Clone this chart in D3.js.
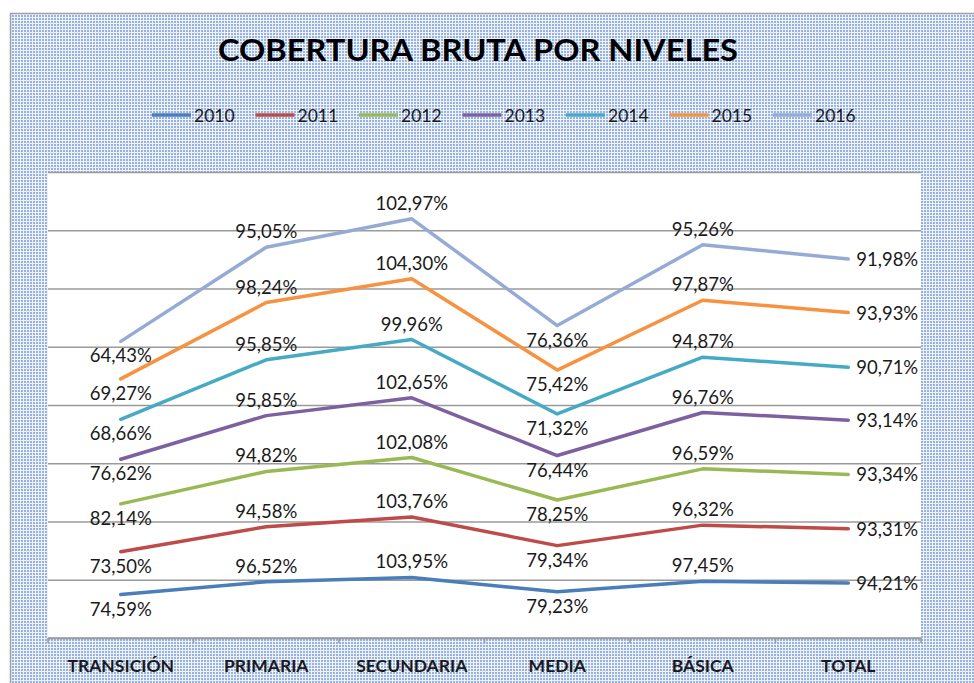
<!DOCTYPE html>
<html>
<head>
<meta charset="utf-8">
<script src="https://cdn.jsdelivr.net/npm/d3@7"></script>
<style>
  body { margin: 0; background: #fff; }
  svg { display: block; font-family: Lato, 'Open Sans', sans-serif; }
</style>
</head>
<body>
<div id="chart"></div>
<script>
// values (stacked line chart, labels show own value)
const categories = ['TRANSICIÓN', 'PRIMARIA', 'SECUNDARIA', 'MEDIA', 'BÁSICA', 'TOTAL'];
const years = ['2010', '2011', '2012', '2013', '2014', '2015', '2016'];
const v2010 = [74.59, 96.52, 103.95, 79.23, 97.45, 94.21];
const v2011 = [73.50, 94.58, 103.76, 79.34, 96.32, 93.31];
const v2012 = [82.14, 94.82, 102.08, 78.25, 96.59, 93.34];
const v2013 = [76.62, 95.85, 102.65, 76.44, 96.76, 93.14];
const v2014 = [68.66, 95.85, 99.96, 71.32, 94.87, 90.71];
const v2015 = [69.27, 98.24, 104.30, 75.42, 97.87, 93.93];
const v2016 = [64.43, 95.05, 102.97, 76.36, 95.26, 91.98];
const yTicks = [0, 100, 200, 300, 400, 500, 600, 700, 800];

const seriesValues = [v2010, v2011, v2012, v2013, v2014, v2015, v2016];
const colors = ['#4a7ebb', '#be4b48', '#98b954', '#7d60a0', '#46aac5', '#f69240', '#95abd6'];
// where Excel put the data labels, per category
const labelPlacement = ['below', 'above', 'above', 'below', 'above', 'right'];

const W = 974, H = 683;
const plot = {left: 48, top: 172, right: 921, bottom: 638};

const svg = d3.select('#chart').append('svg')
    .attr('width', W)
    .attr('height', H);

// dotted pattern like the excel fill
const defs = svg.append('defs');
const pat = defs.append('pattern')
    .attr('id', 'dots')
    .attr('width', 3)
    .attr('height', 3)
    .attr('patternUnits', 'userSpaceOnUse');
pat.append('rect').attr('width', 3).attr('height', 3).attr('fill', '#eef2fa');
pat.append('rect').attr('width', 2).attr('height', 2).attr('fill', '#97b2e0');

svg.append('rect')
    .attr('x', 10.5).attr('y', 13.5)
    .attr('width', 990).attr('height', 700)
    .attr('fill', 'url(#dots)')
    .attr('stroke', '#a0a0a0')
    .attr('stroke-width', 1.5);

svg.append('rect')
    .attr('x', plot.left).attr('y', plot.top)
    .attr('width', plot.right - plot.left)
    .attr('height', plot.bottom - plot.top)
    .attr('fill', '#fff');

// title
svg.append('text')
    .attr('x', 478).attr('y', 49)
    .attr('text-anchor', 'middle')
    .attr('dominant-baseline', 'central')
    .attr('font-size', 30)
    .attr('font-weight', 'bold')
    .attr('fill', '#000')
    .attr('textLength', 520)
    .attr('lengthAdjust', 'spacingAndGlyphs')
    .text('COBERTURA BRUTA POR NIVELES');

// legend
const legend = svg.append('g').attr('class', 'legend');
years.forEach((yr, i) => {
  const x0 = 152 + i * 103.5;
  legend.append('line')
      .attr('x1', x0).attr('x2', x0 + 39)
      .attr('y1', 115).attr('y2', 115)
      .attr('stroke', colors[i])
      .attr('stroke-width', 3.5);
  legend.append('text')
      .attr('x', x0 + 42).attr('y', 115)
      .attr('dominant-baseline', 'central')
      .attr('font-size', 17.5)
      .attr('fill', '#1a1a1a')
      .text(yr);
});

const x = d3.scaleBand()
    .domain(categories)
    .range([plot.left, plot.right])
    .paddingInner(0).paddingOuter(0);
const cx = (c) => x(c) + x.bandwidth() / 2;

const y = d3.scaleLinear()
    .domain([0, 800])
    .range([plot.bottom, plot.top]);

// gridlines
svg.append('g')
    .attr('class', 'grid')
    .attr('transform', `translate(${plot.left},0)`)
    .call(d3.axisLeft(y).tickValues(yTicks).tickSize(-(plot.right - plot.left)).tickFormat(''))
    .call((g) => g.select('.domain').remove())
    .call((g) => g.selectAll('line').attr('stroke', '#9a9a9a').attr('stroke-width', 1.5));

// category axis, ticks sit between the categories
const xAxis = svg.append('g')
    .attr('class', 'x-axis')
    .attr('transform', `translate(0,${plot.bottom})`);
xAxis.append('line')
    .attr('x1', plot.left).attr('x2', plot.right)
    .attr('stroke', '#9a9a9a').attr('stroke-width', 1.5);
const bounds = categories.map((c) => x(c)).concat([plot.right]);
xAxis.selectAll('.tick-mark').data(bounds).join('line')
    .attr('class', 'tick-mark')
    .attr('x1', (d) => d).attr('x2', (d) => d)
    .attr('y1', 0).attr('y2', 5)
    .attr('stroke', '#9a9a9a').attr('stroke-width', 1.5);
xAxis.selectAll('.cat').data(categories).join('text')
    .attr('class', 'cat')
    .attr('x', (d) => cx(d))
    .attr('y', 27)
    .attr('text-anchor', 'middle')
    .attr('dominant-baseline', 'central')
    .attr('font-size', 17.5)
    .attr('font-weight', 'bold')
    .attr('fill', '#1a1a1a')
    .text((d) => d);

// stacked rows
const rows = categories.map((c, ci) => {
  const r = {cat: c};
  years.forEach((yr, i) => r[yr] = seriesValues[i][ci]);
  return r;
});
const stacked = d3.stack().keys(years)(rows);

const line = d3.line()
    .x((d) => cx(d.data.cat))
    .y((d) => y(d[1]));

svg.append('g').attr('class', 'lines')
    .selectAll('path').data(stacked).join('path')
    .attr('d', line)
    .attr('fill', 'none')
    .attr('stroke', (d, i) => colors[i])
    .attr('stroke-width', 3.5)
    .attr('stroke-linejoin', 'round')
    .attr('stroke-linecap', 'round');

const fmt = (v) => d3.format('.2f')(v).replace('.', ',') + '%';

const labels = svg.append('g').attr('class', 'labels');
stacked.forEach((s) => {
  s.forEach((d, ci) => {
    const place = labelPlacement[ci];
    const px = cx(d.data.cat);
    const py = y(d[1]);
    labels.append('text')
        .attr('x', place === 'right' ? px + 8 : px)
        .attr('y', place === 'above' ? py - 16 : place === 'below' ? py + 14 : py)
        .attr('text-anchor', place === 'right' ? 'start' : 'middle')
        .attr('dominant-baseline', 'central')
        .attr('font-size', 18.5)
        .attr('fill', '#1a1a1a')
        .text(fmt(d[1] - d[0]));
  });
});
</script>
</body>
</html>
